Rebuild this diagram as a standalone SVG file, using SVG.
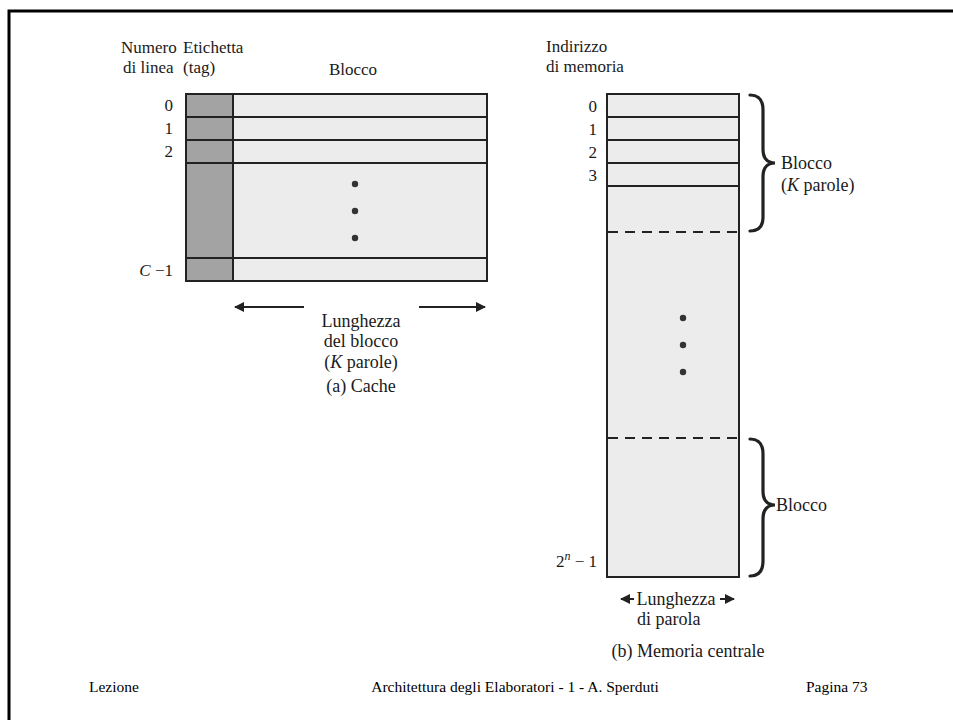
<svg xmlns="http://www.w3.org/2000/svg" width="953" height="720" viewBox="0 0 953 720">
<defs>
<style>
text{font-family:"Liberation Serif","Times New Roman",serif;font-size:17px;fill:#1a1a1a}
.big{font-size:18px}
.foot{font-size:15.5px;fill:#000}
.ln{stroke:#222;stroke-width:2;fill:none}
.dash{stroke:#222;stroke-width:2;stroke-dasharray:10,7;fill:none}
.brace{stroke:#222;stroke-width:3.2;fill:none;stroke-linecap:round}
.dot{fill:#333}
.cell{fill:#ececec}
.tag{fill:#a3a3a3}
</style>
<marker id="ah" viewBox="0 0 10 10" refX="9" refY="5" markerWidth="5" markerHeight="5" orient="auto-start-reverse" markerUnits="strokeWidth">
<path d="M0,0 L10,5 L0,10 z" fill="#222"/>
</marker>
</defs>
<rect width="953" height="720" fill="#fff"/>
<path d="M9,720 V11 H953" stroke="#000" stroke-width="3" fill="none"/>

<g id="cache">
<rect x="186" y="94" width="301" height="187" class="cell"/>
<rect x="186" y="94" width="47" height="187" class="tag"/>
<rect x="186" y="94" width="301" height="187" class="ln"/>
<line x1="233" y1="94" x2="233" y2="281" class="ln"/>
<line x1="186" y1="117" x2="487" y2="117" class="ln"/>
<line x1="186" y1="140" x2="487" y2="140" class="ln"/>
<line x1="186" y1="163" x2="487" y2="163" class="ln"/>
<line x1="186" y1="258" x2="487" y2="258" class="ln"/>
<circle cx="355" cy="184" r="3.2" class="dot"/>
<circle cx="355" cy="211" r="3.2" class="dot"/>
<circle cx="355" cy="238" r="3.2" class="dot"/>
<text x="121" y="53">Numero</text>
<text x="123" y="73">di linea</text>
<text x="183" y="53">Etichetta</text>
<text x="183" y="73">(tag)</text>
<text x="353" y="75" text-anchor="middle">Blocco</text>
<text x="173" y="111" text-anchor="end">0</text>
<text x="173" y="134" text-anchor="end">1</text>
<text x="173" y="157" text-anchor="end">2</text>
<text x="173" y="276" text-anchor="end"><tspan font-style="italic">C</tspan> −1</text>
<text class="big" x="361" y="327" text-anchor="middle">Lunghezza</text>
<text class="big" x="361" y="347" text-anchor="middle">del blocco</text>
<text class="big" x="361" y="368" text-anchor="middle">(<tspan font-style="italic">K</tspan> parole)</text>
<text class="big" x="361" y="392" text-anchor="middle">(a) Cache</text>
</g>

<g id="memoria">
<rect x="607" y="94" width="132" height="483" class="cell"/>
<rect x="607" y="94" width="132" height="483" class="ln"/>
<line x1="607" y1="117" x2="739" y2="117" class="ln"/>
<line x1="607" y1="140" x2="739" y2="140" class="ln"/>
<line x1="607" y1="163" x2="739" y2="163" class="ln"/>
<line x1="607" y1="186" x2="739" y2="186" class="ln"/>
<line x1="608" y1="232" x2="738" y2="232" class="dash"/>
<line x1="608" y1="438" x2="738" y2="438" class="dash"/>
<circle cx="683" cy="318" r="3.2" class="dot"/>
<circle cx="683" cy="345" r="3.2" class="dot"/>
<circle cx="683" cy="372" r="3.2" class="dot"/>
<text x="546" y="52">Indirizzo</text>
<text x="546" y="72">di memoria</text>
<text x="597" y="112" text-anchor="end">0</text>
<text x="597" y="135" text-anchor="end">1</text>
<text x="597" y="158" text-anchor="end">2</text>
<text x="597" y="181" text-anchor="end">3</text>
<text x="597" y="567" text-anchor="end">2<tspan font-size="12" dy="-7" font-style="italic">n</tspan><tspan dy="7"> − 1</tspan></text>
<path class="brace" d="M750,95 Q763,95 763,110 L763,149 Q763,163 775,163 Q763,163 763,177 L763,217 Q763,231 750,231"/>
<path class="brace" d="M750,439 Q763,439 763,454 L763,491 Q763,505 775,505 Q763,505 763,519 L763,561 Q763,576 750,576"/>
<text class="big" x="781" y="169">Blocco</text>
<text class="big" x="781" y="191">(<tspan font-style="italic">K</tspan> parole)</text>
<text class="big" x="776" y="511">Blocco</text>
<text class="big" x="676" y="605" text-anchor="middle">Lunghezza</text>
<text class="big" x="637" y="625">di parola</text>
<text class="big" x="688" y="657" text-anchor="middle">(b) Memoria centrale</text>
</g>

<g id="connectors">
<line x1="304" y1="307" x2="235" y2="307" class="ln" marker-end="url(#ah)"/>
<line x1="419" y1="307" x2="485" y2="307" class="ln" marker-end="url(#ah)"/>
<line x1="634" y1="599" x2="621" y2="599" class="ln" marker-end="url(#ah)"/>
<line x1="720" y1="599" x2="734" y2="599" class="ln" marker-end="url(#ah)"/>
</g>

<g id="footer">
<text class="foot" x="89" y="692">Lezione</text>
<text class="foot" x="515" y="692" text-anchor="middle">Architettura degli Elaboratori - 1 - A. Sperduti</text>
<text class="foot" x="806" y="692">Pagina 73</text>
</g>
</svg>
